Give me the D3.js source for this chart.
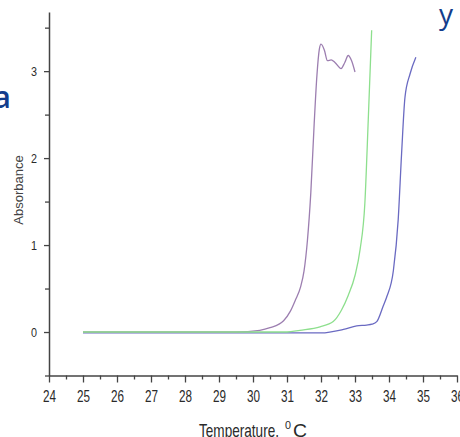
<!DOCTYPE html>
<html>
<head>
<meta charset="utf-8">
<script src="https://cdn.jsdelivr.net/npm/d3@7"></script>
<style>
  body { margin: 0; background: #fff; }
  svg { display: block; }
  .axis path, .axis line { stroke: #444; }
  .axis text { fill: #2a2a2a; }
</style>
</head>
<body>
<div id="chart"></div>
<script>
// Absorbance vs temperature
const xTicks = [24, 25, 26, 27, 28, 29, 30, 31, 32, 33, 34, 35, 36];
const yTicks = [0, 1, 2, 3];

const purpleT = [25, 29.5, 30.2, 30.5, 30.9, 31.1, 31.25, 31.4, 31.5, 31.6, 31.7, 31.8, 31.88, 31.95, 32.0, 32.1, 32.19, 32.3, 32.41, 32.59, 32.7, 32.8, 32.9, 33.0];
const purpleA = [0, 0, 0.02, 0.05, 0.13, 0.24, 0.37, 0.52, 0.7, 1.05, 1.6, 2.4, 2.95, 3.25, 3.31, 3.24, 3.12, 3.13, 3.1, 3.03, 3.1, 3.18, 3.12, 2.99];

const greenT = [25, 31.0, 31.38, 31.97, 32.36, 32.6, 32.8, 33.0, 33.15, 33.29, 33.39, 33.49];
const greenA = [0, 0, 0.02, 0.06, 0.12, 0.25, 0.42, 0.65, 0.95, 1.48, 2.44, 3.47];

const blueT = [25, 32.0, 32.66, 33.05, 33.34, 33.5, 33.64, 33.83, 33.93, 34.13, 34.27, 34.37, 34.47, 34.62, 34.79];
const blueA = [-0.01, -0.01, 0.03, 0.07, 0.08, 0.09, 0.12, 0.3, 0.4, 0.71, 1.29, 2.05, 2.7, 2.97, 3.16];

const width = 460, height = 437;
const svg = d3.select("#chart").append("svg")
    .attr("width", width)
    .attr("height", height);

const x = d3.scaleLinear().domain([24, 36]).range([49, 457]);
const y = d3.scaleLinear().domain([-0.5, 3.68]).range([375.5, 12]);

const line = d3.line()
    .x(d => x(d[0]))
    .y(d => y(d[1]))
    .curve(d3.curveMonotoneX);

const series = [
    { t: blueT, a: blueA, color: "#6a6ac2" },
    { t: purpleT, a: purpleA, color: "#9c7eb0" },
    { t: greenT, a: greenA, color: "#8ddf8d" }
];

series.forEach(s => {
    svg.append("path")
        .datum(s.t.map((t, i) => [t, s.a[i]]))
        .attr("fill", "none")
        .attr("stroke", s.color)
        .attr("stroke-width", 1.3)
        .attr("d", line);
});

// minor ticks (half units)
const xMinor = xTicks.slice(0, -1).map(v => v + 0.5);
const yMinor = [-0.5, 0.5, 1.5, 2.5, 3.5];

svg.append("g")
    .attr("class", "axis")
    .attr("transform", `translate(0,${y(-0.5)})`)
    .call(d3.axisBottom(x).tickValues(xMinor).tickSize(4).tickFormat(""))
    .call(g => g.select(".domain").remove());

svg.append("g")
    .attr("class", "axis")
    .attr("transform", `translate(${x(24)},0)`)
    .call(d3.axisLeft(y).tickValues(yMinor).tickSize(4).tickFormat(""))
    .call(g => g.select(".domain").remove());

// narrow, tall digits like the original (no condensed font installed)
const xAxis = svg.append("g")
    .attr("class", "axis")
    .attr("transform", `translate(0,${y(-0.5)})`)
    .call(d3.axisBottom(x).tickValues(xTicks).tickSize(7).tickPadding(8).tickSizeOuter(0).tickFormat(d3.format("d")));
xAxis.selectAll("text")
    .attr("font-family", "'Liberation Sans', Arial, sans-serif")
    .attr("font-size", 16)
    .attr("textLength", 13)
    .attr("lengthAdjust", "spacingAndGlyphs");

const yAxis = svg.append("g")
    .attr("class", "axis")
    .attr("transform", `translate(${x(24)},0)`)
    .call(d3.axisLeft(y).tickValues(yTicks).tickSize(5).tickPadding(7).tickSizeOuter(0).tickFormat(d3.format("d")));
yAxis.selectAll("text")
    .attr("font-family", "'Liberation Sans', Arial, sans-serif")
    .attr("font-size", 13)
    .attr("textLength", 6)
    .attr("lengthAdjust", "spacingAndGlyphs");

svg.selectAll(".axis .domain").attr("stroke-width", 1.5);
svg.selectAll(".axis line").attr("stroke-width", 1.3);

// axis titles
svg.append("text")
    .attr("transform", "translate(23,190) rotate(-90)")
    .attr("text-anchor", "middle")
    .attr("font-family", "'Liberation Sans', Arial, sans-serif")
    .attr("font-size", 13)
    .attr("fill", "#444")
    .text("Absorbance");

const titleFont = "'Liberation Sans', Arial, sans-serif";
svg.append("text")
    .attr("x", 199).attr("y", 436.5)
    .attr("font-family", titleFont).attr("font-size", 19).attr("fill", "#2a2a2a")
    .attr("textLength", 80).attr("lengthAdjust", "spacingAndGlyphs")
    .text("Temperature,");
svg.append("text")
    .attr("x", 285).attr("y", 429)
    .attr("font-family", titleFont).attr("font-size", 11).attr("fill", "#2a2a2a")
    .attr("textLength", 6).attr("lengthAdjust", "spacingAndGlyphs")
    .text("0");
svg.append("text")
    .attr("x", 293).attr("y", 436.5)
    .attr("font-family", titleFont).attr("font-size", 19).attr("fill", "#2a2a2a")
    .attr("textLength", 14).attr("lengthAdjust", "spacingAndGlyphs")
    .text("C");

// slide leftovers
svg.append("text")
    .attr("x", -7)
    .attr("y", 108)
    .attr("font-family", "'Open Sans', sans-serif")
    .attr("font-size", 31)
    .attr("font-weight", 600)
    .attr("fill", "#123d8c")
    .text("a");

svg.append("text")
    .attr("x", 439)
    .attr("y", 24)
    .attr("font-family", "'Open Sans', sans-serif")
    .attr("font-size", 28)
    .attr("fill", "#123d8c")
    .text("y");
</script>
</body>
</html>
